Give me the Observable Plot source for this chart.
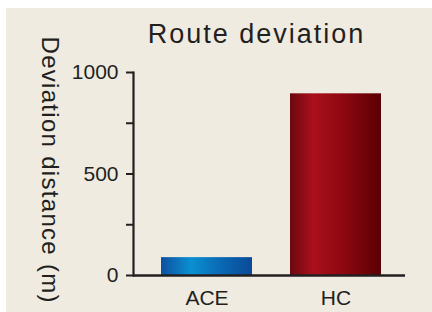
<!DOCTYPE html>
<html><head><meta charset="utf-8">
<script src="https://cdn.jsdelivr.net/npm/d3@7"></script>
<script src="https://cdn.jsdelivr.net/npm/@observablehq/plot@0.6"></script>
<style>
html,body{margin:0;padding:0;background:#fff;}
#wrap{position:relative;width:432px;height:312px;overflow:hidden;}
#bg{position:absolute;left:6px;top:8px;right:0;bottom:0;background:#efebe1;}
#chart{position:absolute;left:0;top:0;}
</style></head><body>
<div id="wrap"><div id="bg"></div><div id="chart"></div></div>
<script>
const categories = ["ACE", "HC"];
const values = [88, 895];
const gradientIds = ["gACE", "gHC"];
const yTicks = [0, 250, 500, 750, 1000];
const yTickLabels = ["0", "", "500", "", "1000"];
const titleText = "Route deviation";
const yLabelText = "Deviation distance (m)";

const data = categories.map((c, i) => ({cat: c, val: values[i], fill: `url(#${gradientIds[i]})`}));
const ink = "#231f20";
const font = "'Liberation Sans', Arial, sans-serif";

const chart = Plot.plot({
  width: 432,
  height: 312,
  marginLeft: 133,
  marginRight: 27,
  marginTop: 72,
  marginBottom: 37,
  style: {background: "transparent", fontFamily: font, fontSize: "21px", color: ink, overflow: "visible"},
  x: {domain: categories, range: [134, 408], paddingInner: 0.2923, paddingOuter: 0.2, label: null},
  y: {domain: [0, 1000], label: null},
  color: {type: "identity"},
  marks: [
    Plot.barY(data, {x: "cat", y: "val", fill: "fill"}),
    Plot.axisY({ticks: yTicks, tickFormat: (d) => yTickLabels[yTicks.indexOf(d)], tickSize: 7, tickPadding: 8, stroke: ink, strokeWidth: 2, strokeOpacity: 1, fill: ink, label: null}),
    Plot.axisX({tickSize: 0, tickPadding: 15, fill: ink, label: null}),
    Plot.frame({anchor: "left", stroke: ink, strokeWidth: 2.2}),
    Plot.ruleY([0], {stroke: ink, strokeWidth: 2.6}),
    Plot.text([titleText], {frameAnchor: "top", dx: -13, dy: -30, fontSize: 27, fill: ink, lineAnchor: "bottom"}),
    Plot.text([yLabelText], {frameAnchor: "top-left", dx: -84, dy: -36, rotate: 90, textAnchor: "start", lineAnchor: "middle", fontSize: 24, fill: ink})
  ]
});

const svg = d3.select(chart);
const tickSet = new Set(yTickLabels.filter((s) => s).concat(categories));
svg.selectAll("text").each(function () {
  const t = this.textContent;
  if (tickSet.has(t)) { this.style.fontSize = "21px"; }
  else if (t === titleText) { this.style.letterSpacing = "2px"; }
  else if (t === yLabelText) { this.style.letterSpacing = "1.3px"; }
});

// gradient defs
const defs = svg.insert("defs", ":first-child");
const grads = {
  gACE: [[0, "#0f4f9f"], [0.33, "#0a90d2"], [0.7, "#0a64b0"], [1, "#0a4a98"]],
  gHC: [[0, "#6a0810"], [0.25, "#aa101b"], [0.6, "#8c0711"], [1, "#5a0003"]]
};
for (const [id, stops] of Object.entries(grads)) {
  const g = defs.append("linearGradient").attr("id", id).attr("x1", "0%").attr("x2", "100%").attr("y1", "0%").attr("y2", "0%");
  for (const [o, c] of stops) g.append("stop").attr("offset", o).attr("stop-color", c);
}
document.getElementById("chart").appendChild(chart);
</script>
</body></html>
